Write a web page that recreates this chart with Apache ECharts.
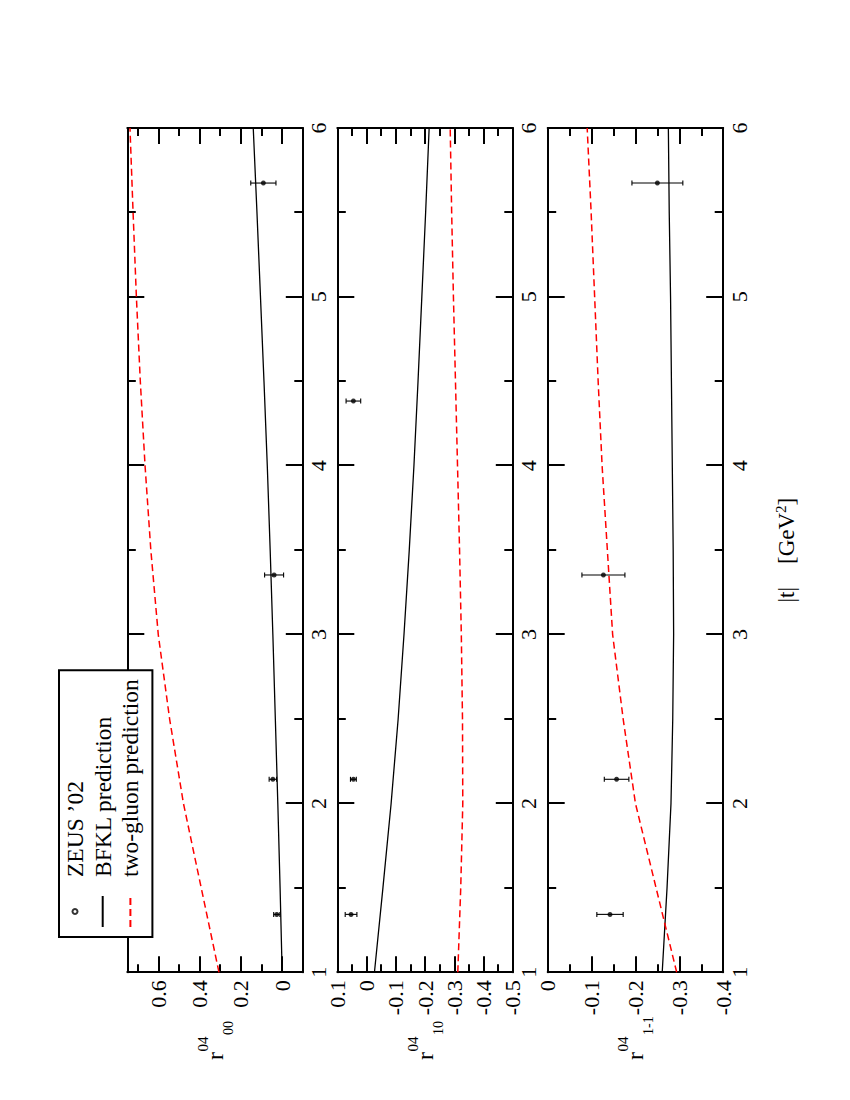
<!DOCTYPE html>
<html>
<head>
<meta charset="utf-8">
<script src="https://cdn.jsdelivr.net/npm/echarts@6/dist/echarts.min.js"></script>
<style>
html, body { margin: 0; padding: 0; width: 850px; height: 1100px; overflow: hidden; background: #ffffff; }
#chart { position: absolute; left: 0; top: 0; width: 1100px; height: 850px;
  transform-origin: 0 0; transform: translate(0px, 1100px) rotate(-90deg); }
</style>
</head>
<body>
<div id="chart"></div>
<script>
// ---------------- data ----------------
const tValues = [1, 1.5, 2, 2.5, 3, 3.5, 4, 4.5, 5, 5.5, 6];

const r00_bfkl  = [0.000, 0.010, 0.021, 0.033, 0.045, 0.058, 0.072, 0.088, 0.105, 0.122, 0.140];
const r00_gluon = [0.306, 0.392, 0.478, 0.545, 0.600, 0.636, 0.664, 0.687, 0.706, 0.722, 0.737];
const r10_bfkl  = [-0.027, -0.056, -0.084, -0.108, -0.128, -0.146, -0.162, -0.176, -0.189, -0.202, -0.214];
const r10_gluon = [-0.312, -0.322, -0.329, -0.328, -0.324, -0.318, -0.311, -0.304, -0.297, -0.291, -0.286];
const r1m1_bfkl  = [-0.261, -0.272, -0.281, -0.285, -0.287, -0.286, -0.284, -0.282, -0.280, -0.277, -0.275];
const r1m1_gluon = [-0.294, -0.247, -0.200, -0.172, -0.148, -0.136, -0.124, -0.115, -0.107, -0.099, -0.090];

const zeus_r00_t   = [1.343, 2.143, 3.353, 5.674];
const zeus_r00     = [0.026, 0.045, 0.039, 0.091];
const zeus_r00_err = [0.015, 0.018, 0.046, 0.061];

const zeus_r10_t   = [1.343, 2.143, 4.383];
const zeus_r10     = [0.053, 0.045, 0.045];
const zeus_r10_err = [0.020, 0.010, 0.025];

const zeus_r1m1_t   = [1.343, 2.143, 3.353, 5.674];
const zeus_r1m1     = [-0.142, -0.157, -0.127, -0.250];
const zeus_r1m1_err = [0.030, 0.028, 0.049, 0.058];

// tick values
const tMajor = [1, 2, 3, 4, 5, 6];
const tMinor = [1.5, 2.5, 3.5, 4.5, 5.5];
const r00Major = [0, 0.2, 0.4, 0.6];
const r00Minor = [-0.1, 0.1, 0.3, 0.5, 0.7];
const r10Major = [-0.5, -0.4, -0.3, -0.2, -0.1, 0, 0.1];
const r10Minor = [-0.45, -0.35, -0.25, -0.15, -0.05, 0.05];
const r1m1Major = [-0.4, -0.3, -0.2, -0.1, 0];
const r1m1Minor = [-0.35, -0.25, -0.15, -0.05];

const seriesNames = ['ZEUS \u201902', 'BFKL prediction', 'two-gluon prediction'];
const subLabels = ['00', '10', '1-1'];

// ---------------- layout / style ----------------
const FONT = 'Liberation Serif, Times New Roman, serif';
const GRID_LEFT = 127.7, GRID_WIDTH = 844.3;
const GRID_TOPS = [127.3, 337.3, 547.7];
const GRID_H = 175.5;

const panels = [
  { bfkl: r00_bfkl, gluon: r00_gluon, zt: zeus_r00_t, zv: zeus_r00, ze: zeus_r00_err,
    min: -0.1, max: 0.75, step: 0.1, major: r00Major, minor: r00Minor },
  { bfkl: r10_bfkl, gluon: r10_gluon, zt: zeus_r10_t, zv: zeus_r10, ze: zeus_r10_err,
    min: -0.5, max: 0.1, step: 0.1, major: r10Major, minor: r10Minor },
  { bfkl: r1m1_bfkl, gluon: r1m1_gluon, zt: zeus_r1m1_t, zv: zeus_r1m1, ze: zeus_r1m1_err,
    min: -0.4, max: 0, step: 0.1, major: r1m1Major, minor: r1m1Minor }
];

function fmt(v) {
  if (Math.abs(v) < 1e-9) return '0';
  return String(+v.toFixed(2));
}

function labelFormatter(list) {
  return function (v) {
    for (let i = 0; i < list.length; i++) {
      if (Math.abs(list[i] - v) < 1e-6) return fmt(list[i]);
    }
    return '';
  };
}

function makeAxis(gridIndex, position, min, max, interval, ticks, len, labelList, showLine, margin) {
  return {
    type: 'value', gridIndex: gridIndex, position: position, min: min, max: max, interval: interval,
    axisLine: { show: showLine, onZero: false, lineStyle: { color: '#000', width: 2 } },
    axisTick: { show: true, inside: true, length: len, customValues: ticks,
      lineStyle: { color: '#000', width: 2 } },
    axisLabel: labelList ? {
      show: true, formatter: labelFormatter(labelList), margin: margin,
      fontFamily: FONT, fontSize: 22, color: '#000', showMinLabel: true, showMaxLabel: true
    } : { show: false },
    splitLine: { show: false },
    minorTick: { show: false },
    splitArea: { show: false }
  };
}

const grids = [], xAxes = [], yAxes = [], series = [], graphics = [];

panels.forEach(function (p, g) {
  grids.push({ left: GRID_LEFT, top: GRID_TOPS[g], width: GRID_WIDTH, height: GRID_H,
    containLabel: false, outerBoundsMode: 'none', show: false });

  // x axes: bottom major (labels), bottom minor, top major, top minor
  const xb = makeAxis(g, 'bottom', 1, 6, 1, tMajor, 17, tMajor, true, 5);
  if (g === 2) {
    xb.name = '|t|    [GeV{sup|2}]';
    xb.nameLocation = 'middle';
    xb.nameGap = 50;
    xb.nameTextStyle = { fontFamily: FONT, fontSize: 23, color: '#000', lineHeight: 26,
      rich: { sup: { fontFamily: FONT, fontSize: 15, color: '#000', verticalAlign: 'top', lineHeight: 26, padding: [0, 0, 10, 0] } } };
  }
  xAxes.push(xb);
  xAxes.push(makeAxis(g, 'bottom', 1, 6, 1, tMinor, 8.5, null, false, 6));
  xAxes.push(makeAxis(g, 'top', 1, 6, 1, tMajor, 17, null, true, 6));
  xAxes.push(makeAxis(g, 'top', 1, 6, 1, tMinor, 8.5, null, false, 6));

  // y axes: left major (labels), left minor, right major, right minor
  yAxes.push(makeAxis(g, 'left', p.min, p.max, p.step, p.major, 16, p.major, true, 8));
  yAxes.push(makeAxis(g, 'left', p.min, p.max, p.step, p.minor, 8, null, false, 8));
  yAxes.push(makeAxis(g, 'right', p.min, p.max, p.step, p.major, 16, null, true, 8));
  yAxes.push(makeAxis(g, 'right', p.min, p.max, p.step, p.minor, 8, null, false, 8));

  const xi = g * 4, yi = g * 4;

  series.push({
    name: seriesNames[1], type: 'line', xAxisIndex: xi, yAxisIndex: yi,
    data: tValues.map(function (t, i) { return [t, p.bfkl[i]]; }),
    showSymbol: false, symbol: 'none', color: '#000', z: 3, silent: true,
    lineStyle: { color: '#000', width: 1.3 }
  });
  series.push({
    name: seriesNames[2], type: 'line', xAxisIndex: xi, yAxisIndex: yi,
    data: tValues.map(function (t, i) { return [t, p.gluon[i]]; }),
    showSymbol: false, symbol: 'none', color: '#ff0000', z: 3, silent: true,
    lineStyle: { color: '#ff0000', width: 1.5, type: [7, 4] }
  });
  series.push({
    name: seriesNames[0], type: 'scatter', xAxisIndex: xi, yAxisIndex: yi,
    data: p.zt.map(function (t, i) { return [t, p.zv[i]]; }),
    symbol: 'circle', symbolSize: 5, color: '#000', z: 5, silent: true,
    itemStyle: { color: '#000' }
  });
  series.push({
    name: seriesNames[0] + ' errors', type: 'custom', xAxisIndex: xi, yAxisIndex: yi,
    data: p.zt.map(function (t, i) { return [t, p.zv[i], p.ze[i]]; }),
    encode: { x: 0, y: 1 }, z: 4, silent: true,
    renderItem: function (params, api) {
      const t = api.value(0), v = api.value(1), e = api.value(2);
      const hi = api.coord([t, v + e]);
      const lo = api.coord([t, v - e]);
      const cap = 2.5;
      const st = { stroke: '#000', lineWidth: 1.1 };
      return { type: 'group', children: [
        { type: 'line', shape: { x1: hi[0], y1: hi[1], x2: lo[0], y2: lo[1] }, style: st },
        { type: 'line', shape: { x1: hi[0] - cap, y1: hi[1], x2: hi[0] + cap, y2: hi[1] }, style: st },
        { type: 'line', shape: { x1: lo[0] - cap, y1: lo[1], x2: lo[0] + cap, y2: lo[1] }, style: st }
      ] };
    }
  });

  // y-axis title  r^{04}_{xx}
  const c = GRID_TOPS[g] + GRID_H / 2;
  graphics.push({ type: 'text', left: 40, top: c - 12, style: { text: 'r', font: '24px ' + FONT, fill: '#000' } });
  graphics.push({ type: 'text', left: 48.5, top: c - 20, style: { text: '04', font: '15px ' + FONT, fill: '#000' } });
  graphics.push({ type: 'text', left: 65, top: c + 6, style: { text: subLabels[g], font: '14px ' + FONT, fill: '#000' } });
});

const chart = echarts.init(document.getElementById('chart'), null, { renderer: 'svg', width: 1100, height: 850 });
chart.setOption({
  animation: false,
  backgroundColor: '#ffffff',
  textStyle: { fontFamily: FONT, color: '#000' },
  grid: grids,
  xAxis: xAxes,
  yAxis: yAxes,
  series: series,
  graphic: graphics,
  legend: {
    orient: 'vertical', left: 163, top: 59,
    padding: [4, 9, 10, 9], itemGap: 3.7, itemWidth: 31, itemHeight: 5,
    backgroundColor: '#ffffff', borderColor: '#000', borderWidth: 2, borderRadius: 0,
    selectedMode: false, z: 20,
    textStyle: { fontFamily: FONT, fontSize: 23.5, lineHeight: 24, color: '#000', padding: [0, 0, 0, 14] },
    data: [
      { name: seriesNames[0], icon: 'emptyCircle' },
      { name: seriesNames[1], itemStyle: { opacity: 0 } },
      { name: seriesNames[2], itemStyle: { opacity: 0 } }
    ]
  }
});
</script>
</body>
</html>
